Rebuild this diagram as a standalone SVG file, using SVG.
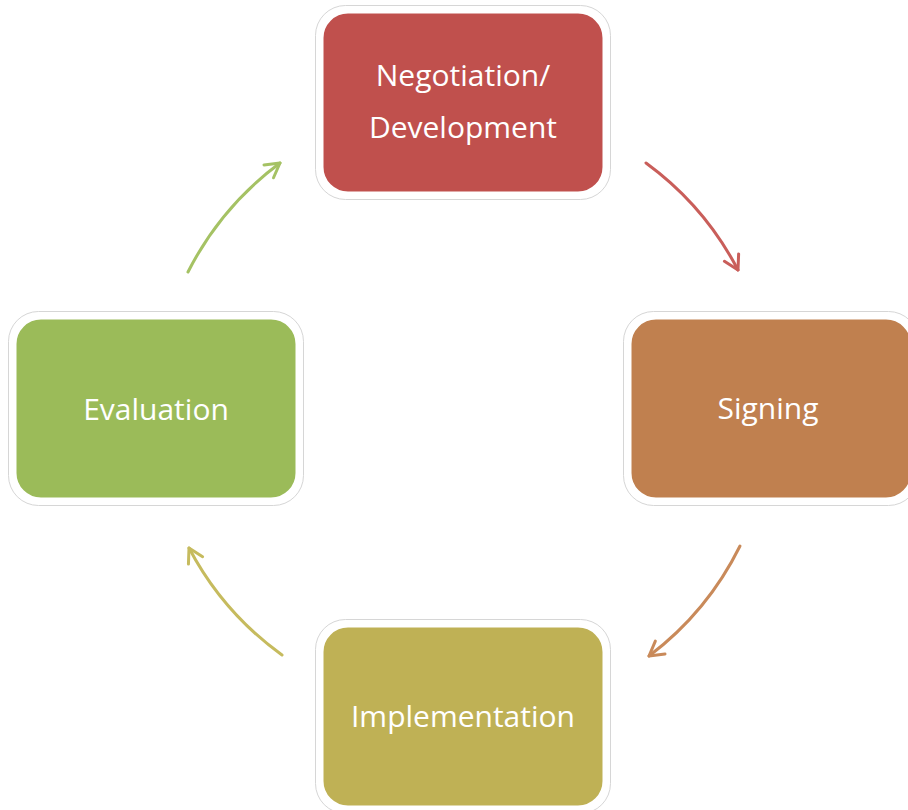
<svg xmlns="http://www.w3.org/2000/svg" width="908" height="810" viewBox="0 0 908 810">
<defs>
<style>
.edge{fill:none;stroke:#d6d6d6;stroke-width:1}
.box{stroke:#fff;stroke-width:7}
.lbl{font-family:"Open Sans","Liberation Sans",sans-serif;font-size:30px;fill:#fff;text-anchor:middle}
.conn{fill:none;stroke-width:3;stroke-linecap:round}
</style>
<marker id="mr" viewBox="0 0 20 20" refX="18" refY="10" markerWidth="20" markerHeight="20" markerUnits="userSpaceOnUse" orient="auto"><path d="M4,2 L18,10 L4,18" fill="none" stroke="#c95e5a" stroke-width="3" stroke-linecap="round" stroke-linejoin="round"/></marker>
<marker id="mo" viewBox="0 0 20 20" refX="18" refY="10" markerWidth="20" markerHeight="20" markerUnits="userSpaceOnUse" orient="auto"><path d="M4,2 L18,10 L4,18" fill="none" stroke="#c98a5a" stroke-width="3" stroke-linecap="round" stroke-linejoin="round"/></marker>
<marker id="my" viewBox="0 0 20 20" refX="18" refY="10" markerWidth="20" markerHeight="20" markerUnits="userSpaceOnUse" orient="auto"><path d="M4,2 L18,10 L4,18" fill="none" stroke="#c6bb5e" stroke-width="3" stroke-linecap="round" stroke-linejoin="round"/></marker>
<marker id="mg" viewBox="0 0 20 20" refX="18" refY="10" markerWidth="20" markerHeight="20" markerUnits="userSpaceOnUse" orient="auto"><path d="M4,2 L18,10 L4,18" fill="none" stroke="#a5c264" stroke-width="3" stroke-linecap="round" stroke-linejoin="round"/></marker>
</defs>
<rect width="908" height="810" fill="#fff"/>
<g id="connectors">
<path class="conn" stroke="#c95e5a" d="M646,163 A310,310 0 0 1 738,270" marker-end="url(#mr)"/>
<path class="conn" stroke="#c98a5a" d="M740,546 A310,310 0 0 1 649,656" marker-end="url(#mo)"/>
<path class="conn" stroke="#c6bb5e" d="M282,655 A310,310 0 0 1 189,548" marker-end="url(#my)"/>
<path class="conn" stroke="#a5c264" d="M188,272 A310,310 0 0 1 280,163" marker-end="url(#mg)"/>
</g>
<g id="node-negotiation">
<rect class="edge" x="315.5" y="5.5" width="295" height="194" rx="30"/>
<rect class="box" x="320" y="10" width="286" height="185" rx="28" fill="#c0504d"/>
<text class="lbl" x="463" y="86">Negotiation/</text>
<text class="lbl" x="463" y="138">Development</text>
</g>
<g id="node-signing">
<rect class="edge" x="623.5" y="311.5" width="295" height="194" rx="30"/>
<rect class="box" x="628" y="316" width="286" height="185" rx="28" fill="#c0804f"/>
<text class="lbl" x="768" y="419">Signing</text>
</g>
<g id="node-implementation">
<rect class="edge" x="315.5" y="619.5" width="295" height="194" rx="30"/>
<rect class="box" x="320" y="624" width="286" height="185" rx="28" fill="#bfb155"/>
<text class="lbl" x="463" y="727">Implementation</text>
</g>
<g id="node-evaluation">
<rect class="edge" x="8.5" y="311.5" width="295" height="194" rx="30"/>
<rect class="box" x="13" y="316" width="286" height="185" rx="28" fill="#9bbb59"/>
<text class="lbl" x="156" y="420">Evaluation</text>
</g>
</svg>
